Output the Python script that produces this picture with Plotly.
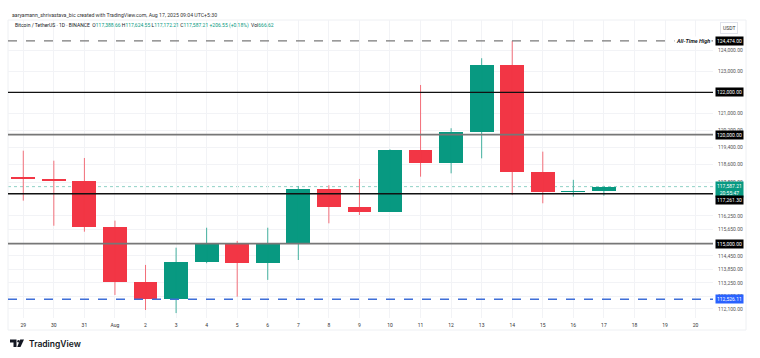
import numpy as np
import pandas as pd
import plotly.graph_objects as go

# ---------------- data ----------------
dates = pd.date_range("2025-07-29", "2025-08-17", freq="D")
opens = [118030, 117925, 117830, 115750, 113290, 112550, 114190, 115040, 114120, 114985,
         117480, 116655, 116440, 119285, 118665, 120110, 123310, 118275, 117342, 117388.66]
highs = [119250, 118785, 118910, 116035, 114045, 114815, 115715, 115120, 115715, 117615,
         117650, 117940, 119310, 122350, 120300, 123635, 124474, 119205, 117900, 117624.55]
lows = [116945, 115805, 115535, 112715, 112055, 111920, 114120, 112640, 113380, 114265,
        115915, 116290, 116440, 118045, 118200, 118895, 117200, 116825, 117130, 117172.21]
closes = [117925, 117830, 115750, 113290, 112550, 114190, 115040, 114120, 114985, 117480,
          116655, 116440, 119285, 118665, 120110, 123310, 118275, 117342, 117380.66, 117587.21]

tick_dates = pd.date_range("2025-07-29", "2025-08-20", freq="D")
tick_labels = ["29", "30", "31", "Aug", "2", "3", "4", "5", "6", "7", "8", "9", "10",
               "11", "12", "13", "14", "15", "16", "17", "18", "19", "20"]

price_ticks = [124000, 123000, 121000, 120200, 119400, 118600, 117800, 116250,
               115650, 114450, 113850, 113250, 112650, 112100]
price_tick_labels = [f"{v:,.2f}" for v in price_ticks]

black_levels = [122000.00, 117261.30]
gray_levels = [120000.00, 115000.00]
ath_level = 124474.00
support_level = 112526.11
last_price = 117587.21
countdown = "20:55:47"

header1 = "aaryamann_shrivastava_bic created with TradingView.com, Aug 17, 2025 09:04 UTC+5:30"
symbol = "Bitcoin / TetherUS · 1D · BINANCE"
ohlc_text = ["117,388.66", "117,624.55", "117,172.21", "117,587.21"]
change_text = "+206.55 (+0.18%)"
vol_text = "666.62"

# ---------------- style ----------------
UP = "#089981"
DOWN = "#F23645"
FONT = "Roboto"
W, H = 760, 358
L, R, T, B = 8, 713, 20, 318   # plot area in pixels

def px(x):
    return (x - L) / (R - L)

def py(y):
    return (B - y) / (B - T)

o = np.array(opens); c = np.array(closes)
colors = [UP if cc >= oo else DOWN for oo, cc in zip(opens, closes)]

fig = go.Figure()

# wicks
for col in (UP, DOWN):
    xs, ys = [], []
    for d, hi, lo, clr in zip(dates, highs, lows, colors):
        if clr == col:
            xs += [d, d, None]
            ys += [lo, hi, None]
    rgba = "rgba(8,153,129,0.75)" if col == UP else "rgba(242,54,69,0.7)"
    fig.add_trace(go.Scatter(x=xs, y=ys, mode="lines", line=dict(color=rgba, width=1),
                             hoverinfo="skip", showlegend=False))

# bodies
fig.add_trace(go.Bar(x=dates, y=c - o, base=o, marker_color=colors,
                     marker_line_width=0, width=0.78 * 86400000,
                     showlegend=False, hoverinfo="skip"))

shapes = []
for v in black_levels:
    shapes.append(dict(type="line", xref="paper", x0=0, x1=1, yref="y", y0=v, y1=v,
                       line=dict(color="#111111", width=1.3), layer="above"))
for v in gray_levels:
    shapes.append(dict(type="line", xref="paper", x0=0, x1=1, yref="y", y0=v, y1=v,
                       line=dict(color="#777777", width=1.8), layer="above"))
shapes.append(dict(type="line", xref="paper", x0=0, x1=1, yref="y", y0=ath_level, y1=ath_level,
                   line=dict(color="#7a7a7a", width=1.3, dash="dash"), layer="above"))
shapes.append(dict(type="line", xref="paper", x0=0, x1=1, yref="y", y0=support_level, y1=support_level,
                   line=dict(color="#3f6fd8", width=1.3, dash="dash"), layer="above"))
shapes.append(dict(type="line", xref="paper", x0=0, x1=1, yref="y", y0=last_price, y1=last_price,
                   line=dict(color="rgba(8,153,129,0.45)", width=1, dash="dot"), layer="below"))
# outer frame
shapes.append(dict(type="rect", xref="paper", yref="paper", x0=px(8), x1=px(746), y0=py(330), y1=py(20),
                   line=dict(color="#eef0f3", width=1), layer="below"))
# TradingView logo mark
shapes.append(dict(type="path", xref="paper", yref="paper",
                   path=f"M {px(10)} {py(339.5)} L {px(16.5)} {py(339.5)} L {px(16.5)} {py(347)} "
                        f"L {px(13.5)} {py(347)} L {px(13.5)} {py(342.5)} L {px(10)} {py(342.5)} Z",
                   fillcolor="#131722", line=dict(width=0)))
shapes.append(dict(type="circle", xref="paper", yref="paper",
                   x0=px(17.3), x1=px(19.7), y0=py(342.5), y1=py(340.1),
                   fillcolor="#131722", line=dict(width=0)))
shapes.append(dict(type="path", xref="paper", yref="paper",
                   path=f"M {px(20.2)} {py(339.5)} L {px(24)} {py(339.5)} L {px(20.5)} {py(347)} "
                        f"L {px(17.2)} {py(347)} Z",
                   fillcolor="#131722", line=dict(width=0)))

ann = []
def label_box(v, text, bg, fg="white", yshift=0):
    ann.append(dict(xref="paper", x=1, xanchor="left", xshift=2, yref="y", y=np.log10(v),
                    yanchor="middle", yshift=yshift, text=text, showarrow=False,
                    bgcolor=bg, borderpad=1, font=dict(family=FONT, size=5, color=fg)))

label_box(ath_level, f"{ath_level:,.2f}", "#000000")
label_box(black_levels[0], f"{black_levels[0]:,.2f}", "#000000")
label_box(gray_levels[0], f"{gray_levels[0]:,.2f}", "#000000")
label_box(last_price, f"{last_price:,.2f}<br>{countdown}", UP, yshift=-3)
label_box(black_levels[1], f"{black_levels[1]:,.2f}", "#000000", yshift=-6)
label_box(gray_levels[1], f"{gray_levels[1]:,.2f}", "#000000")
label_box(support_level, f"{support_level:,.2f}", "#2962FF")

ann.append(dict(xref="paper", x=1, xanchor="right", xshift=-1, yref="y", y=np.log10(ath_level),
                yanchor="middle", text="<b><i>All-Time High</i></b>", showarrow=False,
                bgcolor="white", borderpad=1, font=dict(family=FONT, size=5.5, color="#131722")))

ann.append(dict(xref="paper", yref="paper", x=px(720), y=py(28), xanchor="left", yanchor="middle",
                text="USDT", showarrow=False, bgcolor="white", bordercolor="#e0e3eb", borderwidth=1,
                borderpad=2, font=dict(family=FONT, size=5, color="#333333")))

ann.append(dict(xref="paper", yref="paper", x=px(10), y=py(15), xanchor="left", yanchor="middle",
                text=header1, showarrow=False, font=dict(family=FONT, size=5.2, color="#333333")))
g = lambda s: f"<span style='color:{UP}'>{s}</span>"
line2 = (f"{symbol}  O{g(ohlc_text[0])} H{g(ohlc_text[1])} L{g(ohlc_text[2])} "
         f"C{g(ohlc_text[3])} {g(change_text)}  Vol{g(vol_text)}")
ann.append(dict(xref="paper", yref="paper", x=px(13), y=py(26), xanchor="left", yanchor="middle",
                text=line2, showarrow=False, font=dict(family=FONT, size=5, color="#131722")))

ann.append(dict(xref="paper", yref="paper", x=px(27), y=py(343.5), xanchor="left", yanchor="middle",
                text="TradingView", showarrow=False,
                font=dict(family="Inter", size=8.5, color="#131722", weight=600)))

y_top = 125496
y_bot = 111705
x_left = dates[0] - pd.Timedelta(hours=12)
x_right = dates[0] + pd.Timedelta(days=22.57)

fig.update_layout(
    width=W, height=H,
    margin=dict(l=L, r=W - R, t=T, b=H - B),
    paper_bgcolor="white", plot_bgcolor="white",
    shapes=shapes, annotations=ann, bargap=0,
    font=dict(family=FONT, size=5, color="#333333"),
    xaxis=dict(type="date", range=[x_left, x_right], tickvals=tick_dates, ticktext=tick_labels,
               showgrid=True, gridcolor="#f2f3f6", gridwidth=1, zeroline=False, ticks="",
               showline=False, tickfont=dict(family=FONT, size=5, color="#333333"),
               ticklabelstandoff=3),
    yaxis=dict(type="log", side="right", range=[np.log10(y_bot), np.log10(y_top)],
               tickvals=price_ticks, ticktext=price_tick_labels, showgrid=True,
               gridcolor="#f2f3f6", gridwidth=1, zeroline=False, ticks="", showline=False,
               tickfont=dict(family=FONT, size=5, color="#555555"), ticklabelstandoff=4),
)

fig.write_html("out.html", config={"displayModeBar": False},
               post_script="document.body.style.margin='0';document.body.style.overflow='hidden';")
